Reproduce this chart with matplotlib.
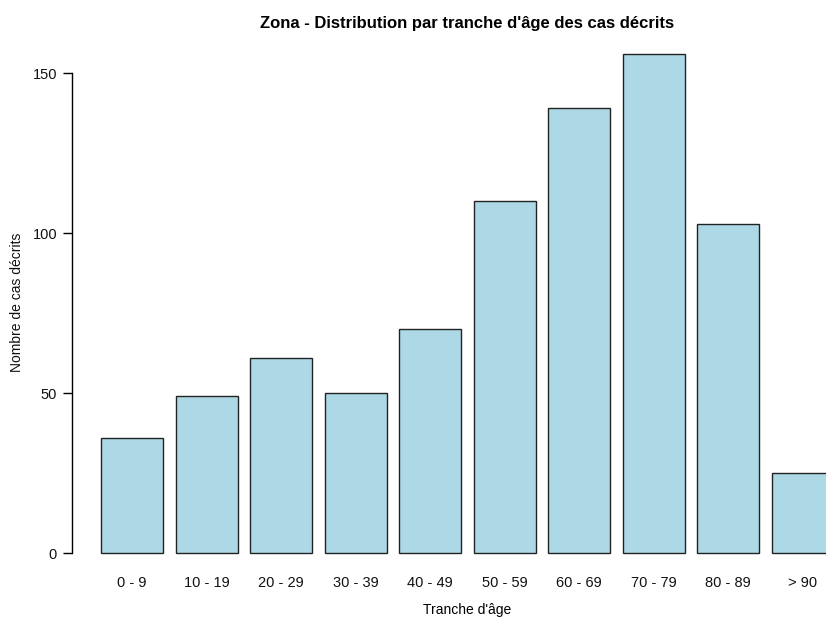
import matplotlib
matplotlib.use("Agg")
import matplotlib.pyplot as plt

plt.rcParams['font.family'] = ['Liberation Sans', 'DejaVu Sans']

categories = ["0 - 9", "10 - 19", "20 - 29", "30 - 39", "40 - 49",
              "50 - 59", "60 - 69", "70 - 79", "80 - 89", "> 90"]
counts = [36, 49, 61, 50, 70, 110, 139, 156, 103, 25]
y_ticks = [0, 50, 100, 150]

W, H = 826, 617
fig = plt.figure(figsize=(W / 100, H / 100), dpi=100)

# plot region laid out like R's barplot (width 1, space 0.2, 4% axis padding)
left_px, right_px, top_px, bottom_px = 71.7, 863.0, 34.0, 573.0
ax = fig.add_axes([left_px / W, 1 - bottom_px / H,
                   (right_px - left_px) / W, (bottom_px - top_px) / H])

space, width = 0.2, 1.0
lefts = [space + i * (width + space) for i in range(len(counts))]
centers = [l + width / 2 for l in lefts]
ax.bar(lefts, counts, width=width, align='edge', color='#ADD8E6',
       edgecolor='#222222', linewidth=1.0)

x_lo, x_hi = lefts[0], lefts[-1] + width
pad = 0.04 * (x_hi - x_lo)
ax.set_xlim(x_lo - pad, x_hi + pad)
y_hi = max(counts)
ax.set_ylim(-0.04 * y_hi, y_hi * 1.04)

for s in ['top', 'right', 'bottom']:
    ax.spines[s].set_visible(False)
ax.spines['left'].set_bounds(y_ticks[0], y_ticks[-1])
ax.spines['left'].set_linewidth(1.0)

ax.set_yticks(y_ticks)
ax.set_yticklabels([str(t) for t in y_ticks])
ax.tick_params(axis='y', length=6.5, width=1.0, pad=4, labelsize=10.5,
               labelcolor='#111111')
ax.set_xticks(centers)
ax.set_xticklabels(categories)
ax.tick_params(axis='x', length=0, pad=2.5, labelsize=10.5,
               labelcolor='#111111')

ax.set_title("Zona - Distribution par tranche d'âge des cas décrits",
             fontsize=12, fontweight='bold', pad=4.5)
ax.set_xlabel("Tranche d'âge", fontsize=10, labelpad=9)
fig.text(17 / W, 1 - 302 / H, "Nombre de cas décrits", fontsize=10,
         rotation=90, ha='center', va='center', color='#111111')

fig.savefig("out.png", dpi=100)
